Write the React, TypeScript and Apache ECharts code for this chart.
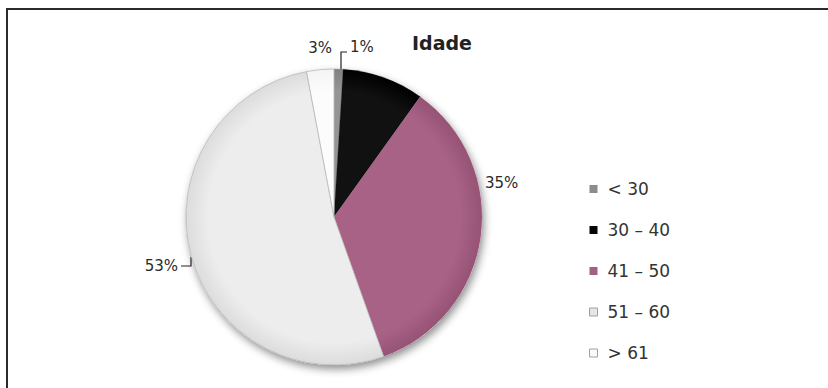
import React, { useEffect, useRef } from "react";
import * as echarts from "echarts";

const categories = ["< 30", "30 – 40", "41 – 50", "51 – 60", "> 61"];
const values = [1, 9, 35, 53, 3];
const labelTexts = ["1%", "", "35%", "53%", "3%"];
const sliceInner = ["#959595", "#111111", "#a86286", "#ededed", "#fcfcfc"];
const sliceOuter = ["#808080", "#000000", "#965374", "#dcdcdc", "#f4f4f4"];
const legendColors = ["#8c8c8c", "#050505", "#a65f84", "#e6e6e6", "#fafafa"];

const CX = 334;
const CY = 217;
const R = 148;

// label placement (layout, not data)
const labelLayouts: any[] = [
  { x: 350, y: 47, align: "left", line: [[341, 70], [341, 52], [347, 52]] },
  null,
  { x: 485, y: 183, align: "left" },
  { x: 178, y: 266, align: "right", line: [[191, 257], [191, 266], [181, 266]] },
  { x: 332, y: 48, align: "right" },
];

export default function App() {
  const ref = useRef<HTMLDivElement>(null);
  useEffect(() => {
    if (!ref.current) return;
    const chart = echarts.init(ref.current, undefined, { renderer: "svg" });
    const iconPath = "path://M0,0h8v8h-8z M12.99,7.99h0.01v0.01h-0.01z";
    const grad = (i: number) => ({
      type: "radial",
      x: CX,
      y: CY,
      r: R,
      global: true,
      colorStops: [
        { offset: 0, color: sliceInner[i] },
        { offset: 0.85, color: sliceInner[i] },
        { offset: 1, color: sliceOuter[i] },
      ],
    });
    chart.setOption({
      animation: false,
      backgroundColor: "#ffffff",
      title: {
        text: "Idade",
        left: 407,
        top: 28,
        textStyle: {
          fontFamily: "DejaVu Sans",
          fontSize: 19,
          fontWeight: "bold",
          color: "#222",
        },
      },
      legend: {
        orient: "vertical",
        left: 584,
        top: 175,
        itemWidth: 13,
        itemHeight: 8,
        itemGap: 23,
        icon: iconPath,
        data: categories.map((c, i) => ({
          name: c,
          itemStyle: {
            color: legendColors[i],
            borderColor: i >= 3 ? "#a0a0a0" : legendColors[i],
            borderWidth: i >= 3 ? 1 : 0,
          },
        })),
        textStyle: {
          fontFamily: "DejaVu Sans",
          fontSize: 17,
          lineHeight: 18,
          color: "#333",
        },
      },
      graphic: [
        {
          type: "line",
          shape: { x1: 6, y1: 9, x2: 828, y2: 9 },
          style: { stroke: "#2b2b2b", lineWidth: 2 },
        },
        {
          type: "line",
          shape: { x1: 7, y1: 8, x2: 7, y2: 388 },
          style: { stroke: "#2b2b2b", lineWidth: 2 },
        },
      ],
      series: [
        {
          type: "pie",
          silent: true,
          center: [CX, CY],
          radius: R,
          z: 1,
          label: { show: false },
          labelLine: { show: false },
          itemStyle: {
            color: "#ffffff",
            shadowBlur: 9,
            shadowOffsetX: 2,
            shadowOffsetY: 4,
            shadowColor: "rgba(0,0,0,0.45)",
          },
          data: [{ value: 1, name: "_shadow" }],
        },
        {
          type: "pie",
          center: [CX, CY],
          radius: R,
          startAngle: 90,
          clockwise: true,
          z: 2,
          avoidLabelOverlap: false,
          data: categories.map((c, i) => ({
            name: c,
            value: values[i],
            itemStyle: {
              color: grad(i),
              borderColor: i >= 3 ? "#b8b8b8" : legendColors[i],
              borderWidth: i >= 3 ? 0.8 : 0.3,
            },
            label: { show: labelTexts[i] !== "" },
            labelLine: { show: !!(labelLayouts[i] && labelLayouts[i].line) },
          })),
          label: {
            show: true,
            position: "outside",
            formatter: (p: any) => labelTexts[p.dataIndex],
            fontFamily: "DejaVu Sans",
            fontSize: 15,
            color: "#2a2a2a",
          },
          labelLine: {
            show: true,
            lineStyle: { color: "#222", width: 1.2 },
          },
          labelLayout: (params: any) => {
            const l = labelLayouts[params.dataIndex];
            if (!l) return {};
            const out: any = {
              x: l.x,
              y: l.y,
              align: l.align,
              verticalAlign: "middle",
            };
            if (l.line) out.labelLinePoints = l.line;
            return out;
          },
        },
      ],
    });
    return () => chart.dispose();
  }, []);
  return (
    <div
      ref={ref}
      style={{ position: "absolute", left: 0, top: 0, width: 828, height: 388 }}
    />
  );
}
